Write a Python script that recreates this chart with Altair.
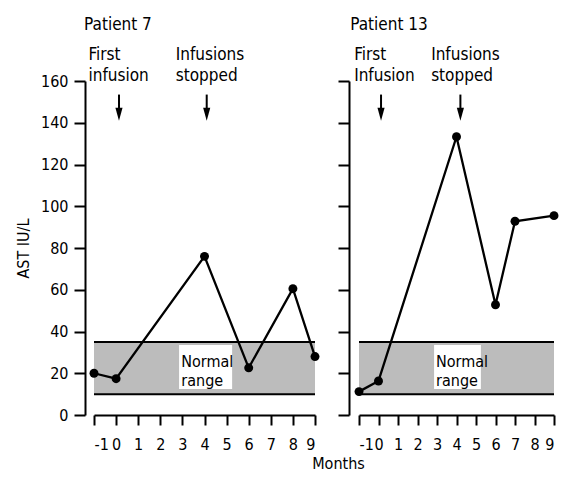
import altair as alt
import pandas as pd

FONT = "DejaVu Sans Condensed, DejaVu Sans, sans-serif"

# ---- data ----
months_p7 = [-1, 0, 4, 6, 8, 9]
ast_p7 = [20, 17.4, 76, 22.6, 60.5, 28]
months_p13 = [-1, 0, 4, 6, 7, 9]
ast_p13 = [11.2, 16.3, 133.3, 52.8, 92.8, 95.5]
normal_low, normal_high = 10, 35
x_ticks = list(range(-1, 10))
y_ticks = list(range(0, 161, 20))
patients = ["Patient 7", "Patient 13"]
first_label = [["First", "infusion"], ["First", "Infusion"]]
stop_label = ["Infusions", "stopped"]
arrow_x = [[0.13, 4.1], [0.13, 4.2]]
normal_label = ["Normal", "range"]


def panel(i, months, ast, width, left):
    xa = dict(values=x_ticks, domainColor="black", domainWidth=2, tickColor="black",
              tickWidth=2, tickSize=10, labelFont=FONT, labelFontSize=16, labelColor="black",
              labelPadding=11, grid=False, labelOverlap=False, labelExpr="datum.value + ''")
    ya = dict(values=y_ticks, domainColor="black", domainWidth=2, tickColor="black",
              tickWidth=2, tickSize=11, labelFont=FONT, labelFontSize=16, labelColor="black",
              labelPadding=6, grid=False, labelOverlap=False)
    if left:
        xa.update(title="Months", titleFont=FONT, titleFontSize=16, titleFontWeight="normal",
                  titleColor="black", titleX=244, titleY=48, titleAlign="center",
                  titleBaseline="middle")
        ya.update(title="AST IU/L", titleFont=FONT, titleFontSize=16, titleFontWeight="normal",
                  titleColor="black", titlePadding=9, offset=9)
    else:
        xa.update(title=None)
        ya.update(title=None, labels=False, offset=10)
    xs = alt.Scale(domain=[-1, 9], nice=False, zero=False)
    ys = alt.Scale(domain=[0, 160], nice=False)
    X = lambda f: alt.X(f, type="quantitative", scale=xs, axis=alt.Axis(**xa))
    Y = lambda f: alt.Y(f, type="quantitative", scale=ys, axis=alt.Axis(**ya))

    band_df = pd.DataFrame({"m": [-1], "m2": [9], "lo": [normal_low], "hi": [normal_high]})
    band = alt.Chart(band_df).mark_rect(fill="#bcbcbc", opacity=1).encode(
        x=X("m"), x2="m2", y=Y("lo"), y2="hi")
    edge_df = pd.DataFrame({"m": [-1, -1], "m2": [9, 9], "v": [normal_low, normal_high]})
    edges = alt.Chart(edge_df).mark_rule(color="black", strokeWidth=2).encode(
        x=X("m"), x2="m2", y=Y("v"))
    box_df = pd.DataFrame({"m": [2.85], "m2": [5.25], "lo": [12.5], "hi": [33.5]})
    box = alt.Chart(box_df).mark_rect(fill="white").encode(
        x=X("m"), x2="m2", y=Y("lo"), y2="hi")
    nl_df = pd.DataFrame({"m": [2.95, 2.95], "v": [25.5, 16.5], "t": normal_label})
    nl = alt.Chart(nl_df).mark_text(align="left", baseline="middle", font=FONT, fontSize=16,
                                     color="black").encode(
        x=X("m"), y=Y("v"), text="t")

    df = pd.DataFrame({"m": months, "v": ast})
    line = alt.Chart(df).mark_line(color="black", strokeWidth=2.3).encode(x=X("m"), y=Y("v"))
    pts = alt.Chart(df).mark_circle(color="black", size=80, opacity=1).encode(x=X("m"), y=Y("v"))

    ar_df = pd.DataFrame({"m": arrow_x[i], "top": [153.5, 153.5], "bot": [146, 146],
                          "head": [144.1, 144.1]})
    shaft = alt.Chart(ar_df).mark_rule(color="black", strokeWidth=2).encode(
        x=X("m"), y=Y("top"), y2="bot")
    head = alt.Chart(ar_df).mark_point(shape="M-0.55,-1L0.55,-1L0,1Z", size=169, filled=True,
                                       color="black", opacity=1).encode(x=X("m"), y=Y("head"))

    txt_df = pd.DataFrame({
        "m": [-1.45, -1.25, -1.25, 2.7, 2.7],
        "v": [187, 172.6, 162.6, 172.6, 162.6],
        "t": [patients[i], first_label[i][0], first_label[i][1], stop_label[0], stop_label[1]],
    })
    txt = alt.Chart(txt_df).mark_text(align="left", baseline="middle", font=FONT, fontSize=17,
                                       color="black").encode(
        x=X("m"), y=Y("v"), text="t")

    return alt.layer(band, edges, box, nl, line, pts, shaft, head, txt).properties(
        width=width, height=334)


left = panel(0, months_p7, ast_p7, 221, True)
right = panel(1, months_p13, ast_p13, 195, False)

chart = alt.hconcat(left, right, spacing=44, bounds="flush").properties(
    padding={"left": 7, "top": 7, "right": 0, "bottom": 0}
).configure_view(stroke=None)

chart.save("out.html", embed_options={"renderer": "svg", "actions": False})
